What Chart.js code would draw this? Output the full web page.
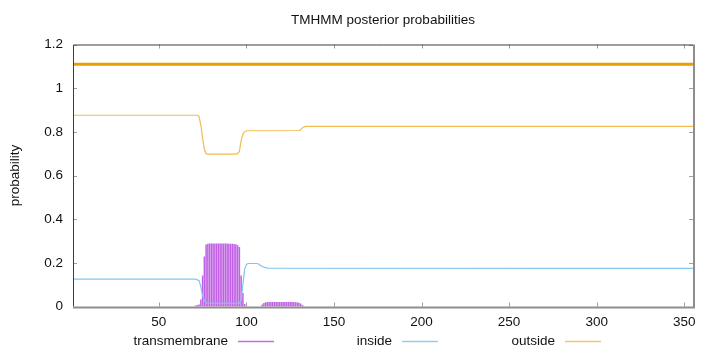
<!DOCTYPE html>
<html>
<head>
<meta charset="utf-8">
<title>TMHMM posterior probabilities</title>
<script src="https://cdn.jsdelivr.net/npm/chart.js@4/dist/chart.umd.min.js"></script>
<style>
  html, body { margin: 0; padding: 0; background: #fff; }
  canvas { display: block; }
</style>
</head>
<body>
<canvas id="tmhmmChart" width="720" height="352"></canvas>
<script>
// tmhmm-plot.js

const FONT = "'Liberation Sans', Arial, sans-serif";

const titleText = "TMHMM posterior probabilities";
const yTitle = "probability";

const seqStart = 1;
const seqEnd = 355;

const xTicks = [50, 100, 150, 200, 250, 300, 350];
const xTickLabels = ["50", "100", "150", "200", "250", "300", "350"];
const yTicks = [0, 0.2, 0.4, 0.6, 0.8, 1, 1.2];
const yTickLabels = ["0", "0.2", "0.4", "0.6", "0.8", "1", "1.2"];

// transmembrane posterior, one impulse per residue (zero elsewhere)
const tmResidues = [
  71, 72, 73, 74, 75, 76, 77, 78, 79, 80, 81, 82, 83, 84, 85,
  86, 87, 88, 89, 90, 91, 92, 93, 94, 95, 96, 97, 98, 99,
  109, 110, 111, 112, 113, 114, 115, 116, 117, 118, 119, 120,
  121, 122, 123, 124, 125, 126, 127, 128, 129, 130, 131, 132
];
const tmValues = [
  0.003, 0.005, 0.008, 0.03, 0.141, 0.228, 0.282, 0.286, 0.287, 0.287, 0.287, 0.287, 0.287, 0.287, 0.287,
  0.287, 0.287, 0.287, 0.287, 0.286, 0.286, 0.286, 0.285, 0.284, 0.279, 0.271, 0.141, 0.06, 0.01,
  0.008, 0.015, 0.018, 0.019, 0.019, 0.019, 0.019, 0.019, 0.019, 0.019, 0.019, 0.019,
  0.019, 0.019, 0.019, 0.019, 0.019, 0.019, 0.019, 0.018, 0.018, 0.016, 0.012, 0.005
];

// inside posterior, read at the corners of the curve
const insideX = [1, 71, 72, 73, 74, 75, 76, 77, 78, 96, 97, 98, 99, 100, 101, 106, 107, 108, 110, 112, 355];
const insideY = [0.125, 0.125, 0.122, 0.118, 0.09, 0.05, 0.025, 0.017, 0.015, 0.015, 0.03, 0.1, 0.17, 0.193, 0.197, 0.197, 0.195, 0.188, 0.18, 0.176, 0.175];

// outside posterior
const outsideX = [1, 72, 73, 74, 75, 76, 77, 78, 94, 95, 96, 97, 98, 99, 100, 130, 131, 132, 133, 134, 355];
const outsideY = [0.876, 0.876, 0.87, 0.83, 0.77, 0.72, 0.70, 0.698, 0.698, 0.70, 0.71, 0.76, 0.79, 0.80, 0.805, 0.806, 0.81, 0.818, 0.823, 0.825, 0.825];

// predicted topology: the whole sequence is outside
const topologyX = [1, 355];
const topologyY = [1.11, 1.11];

const colors = {
  transmembrane: "rgb(192,96,228)",
  inside: "rgb(128,198,238)",
  outside: "rgb(242,188,78)",
  topology: "rgb(232,160,0)"
};
const keyColors = {
  transmembrane: "rgb(192,112,230)",
  inside: "rgb(150,204,236)",
  outside: "rgb(244,196,110)"
};
const keyLabels = ["transmembrane", "inside", "outside"];

const zip = (xs, ys) => xs.map((x, i) => ({ x, y: ys[i] }));

// ---- gnuplot style frame, inward ticks, title and key ----
const gnuplotFrame = {
  id: "gnuplotFrame",
  afterDraw(chart) {
    const { ctx, chartArea: a, scales: { x, y } } = chart;
    ctx.save();

    // inward tick marks on all four sides
    ctx.strokeStyle = "#a0a0a0";
    ctx.lineWidth = 1;
    ctx.beginPath();
    xTicks.forEach(v => {
      const px = Math.round(x.getPixelForValue(v)) + 0.5;
      ctx.moveTo(px, a.bottom); ctx.lineTo(px, a.bottom - 4);
      ctx.moveTo(px, a.top); ctx.lineTo(px, a.top + 4);
    });
    yTicks.forEach(v => {
      const py = Math.round(y.getPixelForValue(v)) + 0.5;
      ctx.moveTo(a.left, py); ctx.lineTo(a.left + 4, py);
      ctx.moveTo(a.right, py); ctx.lineTo(a.right - 4, py);
    });
    ctx.stroke();

    // border
    ctx.strokeStyle = "#3c3c3c";
    ctx.lineWidth = 1;
    ctx.beginPath();
    ctx.moveTo(a.left + 0.5, a.bottom);
    ctx.lineTo(a.left + 0.5, a.top + 0.5);
    ctx.lineTo(a.right, a.top + 0.5);
    ctx.stroke();
    ctx.strokeStyle = "#8e8e8e";
    ctx.lineWidth = 2;
    ctx.beginPath();
    ctx.moveTo(a.left, a.bottom + 1);
    ctx.lineTo(a.right + 1, a.bottom + 1);
    ctx.lineTo(a.right + 1, a.top);
    ctx.stroke();

    // title and y label
    ctx.fillStyle = "#111";
    ctx.font = `13.5px ${FONT}`;
    ctx.textAlign = "center";
    ctx.textBaseline = "middle";
    ctx.fillText(titleText, (a.left + a.right) / 2, 20);
    ctx.save();
    ctx.translate(15, (a.top + a.bottom) / 2);
    ctx.rotate(-Math.PI / 2);
    ctx.fillText(yTitle, 0, 0);
    ctx.restore();

    // key: text right-justified, then a line sample
    const keyRight = [228, 392, 555];
    const keyY = 341;
    keyLabels.forEach((label, i) => {
      ctx.fillStyle = "#111";
      ctx.textAlign = "right";
      ctx.fillText(label, keyRight[i], keyY);
      ctx.strokeStyle = keyColors[label];
      ctx.lineWidth = 1.5;
      ctx.beginPath();
      ctx.moveTo(keyRight[i] + 10, keyY + 0.5);
      ctx.lineTo(keyRight[i] + 46, keyY + 0.5);
      ctx.stroke();
    });

    ctx.restore();
  }
};

const ctx = document.getElementById("tmhmmChart").getContext("2d");
new Chart(ctx, {
  type: "bar",
  data: {
    datasets: [
      {
        type: "bar",
        label: "transmembrane",
        data: zip(tmResidues, tmValues),
        backgroundColor: colors.transmembrane,
        barThickness: 0.85,
        order: 3
      },
      {
        type: "line",
        label: "inside",
        data: zip(insideX, insideY),
        borderColor: colors.inside,
        borderWidth: 1.2,
        pointRadius: 0,
        tension: 0,
        order: 2
      },
      {
        type: "line",
        label: "outside",
        data: zip(outsideX, outsideY),
        borderColor: colors.outside,
        borderWidth: 1.2,
        pointRadius: 0,
        tension: 0,
        order: 1
      },
      {
        type: "line",
        label: "topology",
        data: zip(topologyX, topologyY),
        borderColor: colors.topology,
        borderWidth: 3,
        pointRadius: 0,
        order: 0
      }
    ]
  },
  options: {
    responsive: false,
    animation: false,
    events: [],
    layout: { padding: { top: 44.5, right: 27, left: 0, bottom: 0 } },
    scales: {
      x: {
        type: "linear",
        min: seqStart,
        max: seqEnd,
        offset: false,
        grid: { display: false, drawTicks: false },
        border: { display: false },
        afterBuildTicks: s => { s.ticks = xTicks.map(v => ({ value: v })); },
        afterFit: s => { s.height = 45.5; },
        ticks: {
          padding: 8,
          maxRotation: 0,
          color: "#111",
          font: { family: FONT, size: 13.5 },
          callback: (v, i) => xTickLabels[i]
        }
      },
      y: {
        min: 0,
        max: 1.2,
        grid: { display: false, drawTicks: false },
        border: { display: false },
        afterBuildTicks: s => { s.ticks = yTicks.map(v => ({ value: v })); },
        afterFit: s => { s.width = 73; },
        ticks: {
          padding: 10,
          color: "#111",
          font: { family: FONT, size: 13.5 },
          callback: (v, i) => yTickLabels[i]
        }
      }
    },
    plugins: {
      legend: { display: false },
      title: { display: false },
      tooltip: { enabled: false }
    }
  },
  plugins: [gnuplotFrame]
});
</script>
</body>
</html>
